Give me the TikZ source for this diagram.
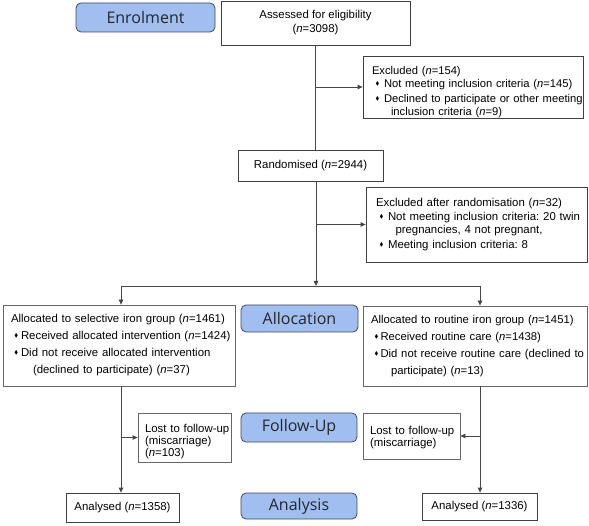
\documentclass[tikz,border=0pt]{standalone}
\usepackage{amssymb}
\usepackage{fontspec}
\setmainfont{Liberation Sans}
\newfontfamily\stagefont{Open Sans}
\usetikzlibrary{arrows.meta}
\frenchspacing

\definecolor{stagefill}{RGB}{160,191,240}
\definecolor{stageline}{RGB}{62,72,98}
\definecolor{flowline}{RGB}{70,70,70}

\newcommand{\dmd}{\raisebox{2pt}{\scalebox{0.5}{$\blacklozenge$}}}
\newcommand{\itm}[2][12pt]{\mbox{\makebox[#1][l]{\hspace{3.5pt}\dmd}#2}}
\newcommand{\cnt}[2][19.5pt]{\mbox{\hspace*{#1}#2}}

\begin{document}
\begin{tikzpicture}[x=1pt,y=-1pt,
	stage/.style={draw=stageline, fill=stagefill, rounded corners=5pt, line width=0.8pt,
		font=\stagefont\fontsize{16}{18}\selectfont, text=black!85},
	box/.style={draw=black!75, line width=0.8pt, font=\fontsize{11.4}{13}\selectfont},
	flow/.style={draw=flowline, line width=0.8pt},
	arr/.style={flow, -{Triangle[length=5pt,width=4.5pt]}}]
	\useasboundingbox (0,0) rectangle (589,526);

	% stage labels
	\node[stage, minimum width=139pt, minimum height=29pt] (enrol) at (145.5,17.5) {Enrolment};
	\node[stage, minimum width=117pt, minimum height=27pt] (alloc) at (299.5,318.5) {Allocation};
	\node[stage, minimum width=116pt, minimum height=29pt] (follow) at (299,427.5) {Follow-Up};
	\node[stage, minimum width=116pt, minimum height=26pt] (analysis) at (299,506) {Analysis};

	% boxes
	\node[box, minimum width=189pt, minimum height=44pt, align=center,
		font=\fontsize{11.4}{14}\selectfont] (assess) at (315.5,23)
		{Assessed for eligibility\\(\textit{n}=3098)};
	\node[box, minimum width=220pt, minimum height=62pt, inner xsep=9pt, inner ysep=0pt,
		text width=202pt, text depth=33pt, align=left,
		font=\fontsize{11.2}{13}\selectfont] (excl) at (473,87)
		{Excluded (\textit{n}=154)\\
		\itm{Not meeting inclusion criteria (\textit{n}=145)}\\[1.5pt]
		\itm{Declined to participate or other meeting}\\
		\cnt[19pt]{inclusion criteria (\textit{n}=9)}};
	\node[box, minimum width=145pt, minimum height=31pt] (rand) at (310.5,165.5)
		{Randomised (\textit{n}=2944)};
	\node[box, minimum width=221pt, minimum height=75pt, inner xsep=10pt, text width=201pt,
		align=left] (exaft) at (476.5,224.5)
		{Excluded after randomisation (\textit{n}=32)\\[1pt]
		\itm{Not meeting inclusion criteria: 20 twin}\\
		\cnt{pregnancies, 4 not pregnant,}\\[2pt]
		\itm{Meeting inclusion criteria: 8}};
	\node[box, draw=black!60, minimum width=232pt, minimum height=81pt, inner xsep=8pt,
		text width=216pt, align=left, font=\fontsize{11.4}{17}\selectfont] (selgrp) at (119,345.5)
		{Allocated to selective iron group (\textit{n}=1461)\\
		\itm[10pt]{Received allocated intervention (\textit{n}=1424)}\\
		\itm[10pt]{Did not receive allocated intervention}\\
		\cnt[22pt]{(declined to participate) (\textit{n}=37)}};
	\node[box, draw=black!60, minimum width=224pt, minimum height=80pt, inner xsep=8pt,
		text width=208pt, align=left, font=\fontsize{11.3}{17}\selectfont] (rtngrp) at (475,346)
		{Allocated to routine iron group (\textit{n}=1451)\\
		\itm[9.5pt]{Received routine care (\textit{n}=1438)}\\
		\itm[9.5pt]{Did not receive routine care (declined to}\\
		\cnt[20pt]{participate) (\textit{n}=13)}};
	\node[box, draw=black!60, minimum width=93pt, minimum height=49pt, inner xsep=7pt,
		text width=79pt, text depth=18pt, align=left,
		font=\fontsize{11.4}{12}\selectfont] (lostsel) at (184.5,437.5)
		{\mbox{Lost to follow-up}\\(miscarriage)\\(\textit{n}=103)};
	\node[box, draw=black!60, minimum width=97pt, minimum height=46pt, inner xsep=7pt,
		text width=83pt, text depth=10.5pt, align=left,
		font=\fontsize{11.4}{12}\selectfont] (lostrtn) at (411.5,436)
		{\mbox{Lost to follow-up}\\(miscarriage)};
	\node[box, minimum width=113pt, minimum height=29pt] (anasel) at (122.5,507.5)
		{Analysed (\textit{n}=1358)};
	\node[box, minimum width=115pt, minimum height=27pt] (anartn) at (479.5,506.5)
		{Analysed (\textit{n}=1336)};

	% connectors
	\coordinate (split) at (316,286);
	\coordinate (left) at (121,286);
	\coordinate (right) at (480,286);
	\draw[flow] (assess.south) -- (assess.south |- rand.north);
	\draw[arr] (assess.south |- excl.west) -- (excl.west);
	\draw[arr] (split |- rand.south) -- (split);
	\draw[arr] (split |- exaft.west) -- (exaft.west);
	\draw[flow] (left) -- (right);
	\draw[arr] (left) -- (left |- selgrp.north);
	\draw[arr] (right) -- (right |- rtngrp.north);
	\draw[arr] (left |- selgrp.south) -- (left |- anasel.north);
	\draw[arr] (left |- lostsel.west) -- (lostsel.west);
	\draw[arr] (right |- rtngrp.south) -- (right |- anartn.north);
	\draw[arr] (right |- lostrtn.east) -- (lostrtn.east);
\end{tikzpicture}
\end{document}
